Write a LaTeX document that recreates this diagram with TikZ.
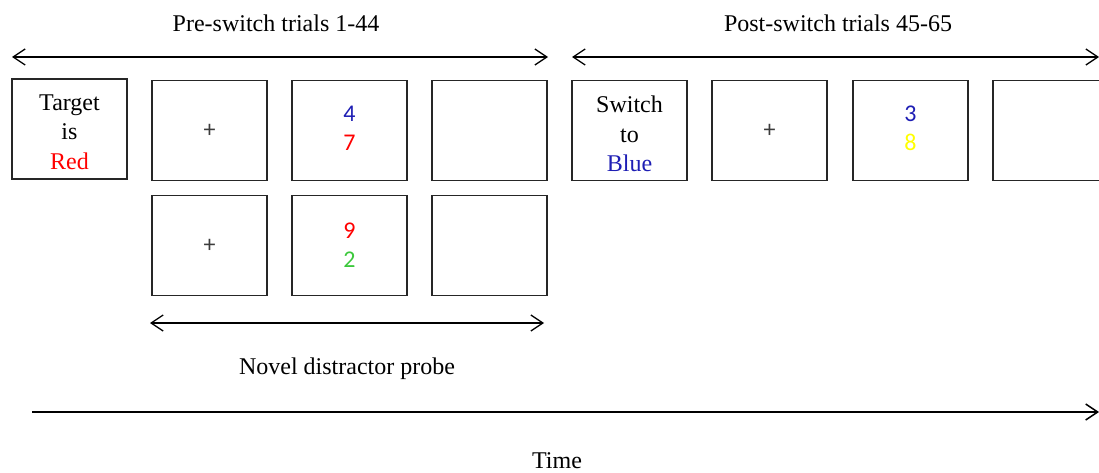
\documentclass[tikz,border=0pt]{standalone}
\usepackage{fontspec}
\setmainfont{Liberation Serif}
\newfontfamily\digitfont{Carlito}
\usetikzlibrary{arrows.meta}
\definecolor{tred}{RGB}{255,0,0}
\definecolor{tblue}{RGB}{30,30,180}
\definecolor{tgreen}{RGB}{60,200,60}
\definecolor{tyellow}{RGB}{255,255,0}
\definecolor{crossgray}{RGB}{60,60,60}
\tikzset{
  screen/.style={draw=black!85, line width=1.4pt, minimum width=115pt, minimum height=100pt, inner sep=0pt, align=center, font=\fontsize{24}{29.5}\selectfont},
  digits/.style={screen, font=\digitfont\fontsize{24}{29}\selectfont},
  label/.style={font=\fontsize{24}{28}\selectfont, inner sep=0pt},
  span/.style={line width=1.3pt, {Straight Barb[length=12pt,width=16pt,line width=1.3pt]}-{Straight Barb[length=12pt,width=16pt,line width=1.3pt]}},
  timeline/.style={line width=2pt, -{Straight Barb[length=12pt,width=16pt,line width=1.5pt]}}
}
\begin{document}
\begin{tikzpicture}[x=1pt,y=-1pt]
\useasboundingbox (0,0) rectangle (1099,473);
\clip (0,0) rectangle (1099,473);
% top row
\node[screen] (b1) at (69.5,129) {};
\node[align=center, font=\fontsize{24}{29.5}\selectfont, inner sep=0pt] (t1) at (69.5,132) {Target\\is\\\textcolor{tred}{Red}};
\node[screen] (b2) at (209.5,130.5) {\digitfont\textcolor{crossgray}{+}};
\node[digits] (b3) at (349.5,130.5) {};
\node[align=center, font=\digitfont\fontsize{24}{29}\selectfont, inner sep=0pt] (d3) at (349.5,128) {\textcolor{tblue}{4}\\\textcolor{tred}{7}};
\node[screen] (b4) at (489.5,130.5) {};
\node[screen] (b5) at (629.5,130.5) {};
\node[align=center, font=\fontsize{24}{29.5}\selectfont, inner sep=0pt] (t5) at (629.5,134) {Switch\\to\\\textcolor{tblue}{Blue}};
\node[screen] (b6) at (769.5,130.5) {\digitfont\textcolor{crossgray}{+}};
\node[digits] (b7) at (910.5,130.5) {};
\node[align=center, font=\digitfont\fontsize{24}{29}\selectfont, inner sep=0pt] (d7) at (910.5,128) {\textcolor{tblue}{3}\\\textcolor{tyellow}{8}};
\node[screen] (b8) at (1050.5,130.5) {};
% second row
\node[screen] (c2) at (209.5,245.5) {\digitfont\textcolor{crossgray}{+}};
\node[digits] (c3) at (349.5,245.5) {\textcolor{tred}{9}\\\textcolor{tgreen}{2}};
\node[screen] (c4) at (489.5,245.5) {};
% labels
\node[label] (pre) at (276,23) {Pre-switch trials 1-44};
\node[label] (post) at (838,23) {Post-switch trials 45-65};
\node[label] (novel) at (347,369) {Novel distractor probe};
\node[label] (time) at (557,461) {Time};
% arrows
\coordinate (preL) at (12,57);
\coordinate (preR) at (548,57);
\coordinate (postL) at (572,57);
\coordinate (postR) at (1099,57);
\coordinate (novL) at (150,323);
\coordinate (novR) at (544,323);
\coordinate (timeL) at (32,412);
\coordinate (timeR) at (1099,412);
\draw[span] (preL) -- (preR);
\draw[span] (postL) -- (postR);
\draw[span] (novL) -- (novR);
\draw[timeline] (timeL) -- (timeR);
\end{tikzpicture}
\end{document}
